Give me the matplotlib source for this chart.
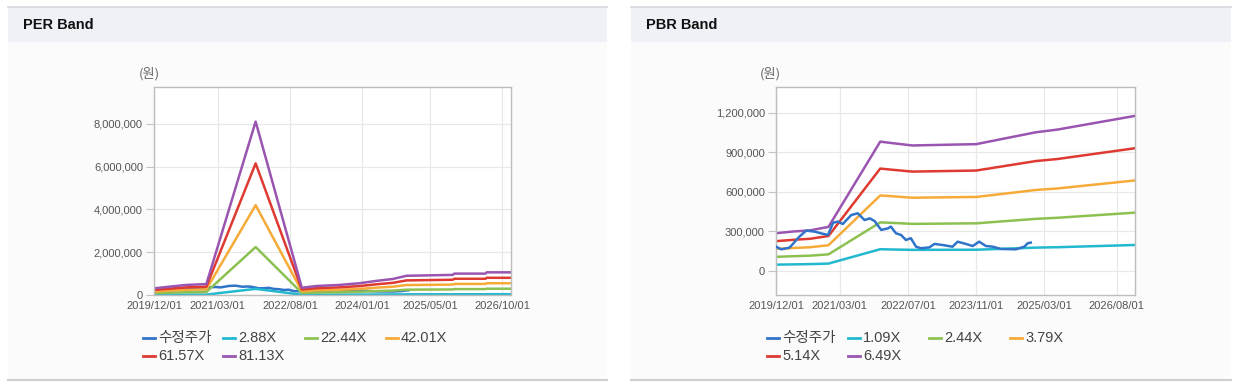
import matplotlib
matplotlib.use("Agg")
import matplotlib.pyplot as plt
import matplotlib.dates as mdates
from matplotlib.lines import Line2D
from matplotlib.patches import Rectangle
from matplotlib.ticker import FuncFormatter, FixedLocator
import numpy as np
import pandas as pd

plt.rcParams['font.family'] = ['Liberation Sans', 'Noto Sans CJK KR', 'DejaVu Sans']

# ---------------- data ----------------
price_dates = ['2019-12-01', '2020-01-08', '2020-03-07', '2020-05-16', '2020-07-04', '2020-09-03',
               '2020-10-19', '2020-12-07', '2021-01-12', '2021-02-15', '2021-03-22', '2021-05-22',
               '2021-07-07', '2021-08-25', '2021-10-01', '2021-11-04', '2021-12-22', '2022-02-08',
               '2022-03-01', '2022-04-07', '2022-05-13', '2022-06-16', '2022-07-22', '2022-08-28',
               '2022-10-03', '2022-12-01', '2023-01-07', '2023-03-04', '2023-05-16', '2023-06-21',
               '2023-08-19', '2023-10-07', '2023-11-22', '2024-01-10', '2024-02-28', '2024-04-25',
               '2024-08-10', '2024-10-10', '2024-11-03', '2024-11-25']
price_values = [184000, 164000, 177000, 260000, 306000, 298000,
                285000, 273000, 366000, 374000, 356000, 424000,
                437000, 386000, 399000, 379000, 311000, 323000,
                336000, 285000, 273000, 235000, 248000, 184000,
                172000, 179000, 205000, 197000, 184000, 222000,
                205000, 189000, 222000, 189000, 184000, 167000,
                164000, 184000, 210000, 215000]

per_dates = ['2019-12-01', '2020-03-20', '2020-07-19', '2020-12-10', '2021-11-28', '2022-10-25',
             '2023-02-05', '2023-07-20', '2023-12-12', '2024-04-10', '2024-08-07', '2024-11-12',
             '2025-10-10', '2025-10-20', '2026-06-01', '2026-06-10', '2026-12-01']
per_labels = ['2.88X', '22.44X', '42.01X', '61.57X', '81.13X']
per_2_88 = [11000, 13800, 16700, 18100, 288000, 12100, 14900, 16700, 19500, 23400, 26600, 31900,
            33400, 35500, 35500, 37600, 37600]
per_22_44 = [85700, 107700, 130200, 141100, 2244000, 94000, 116200, 130200, 152100, 182400, 207300,
             248900, 260100, 276700, 276700, 293300, 293300]
per_42_01 = [160500, 201600, 243700, 264200, 4201000, 176000, 217600, 243700, 284800, 341500, 388200,
             465900, 486900, 518000, 518000, 549100, 549100]
per_61_57 = [235200, 295500, 357100, 387300, 6157000, 258000, 318900, 357100, 417400, 500600, 568900,
             682800, 713600, 759200, 759200, 804700, 804700]
per_81_13 = [309900, 389400, 470600, 510300, 8113000, 339900, 420300, 470600, 550100, 659600, 749600,
             899700, 940300, 1000300, 1000300, 1060400, 1060400]

pbr_dates = ['2019-12-01', '2020-04-01', '2020-08-01', '2020-12-10', '2021-12-15', '2022-03-01',
             '2022-08-01', '2023-11-01', '2024-06-01', '2025-01-01', '2025-06-01', '2026-12-10']
pbr_labels = ['1.09X', '2.44X', '3.79X', '5.14X', '6.49X']
pbr_1_09 = [48000, 50000, 52000, 56000, 165000, 163000, 160000, 161000, 169000, 177000, 180000, 197000]
pbr_2_44 = [107000, 112000, 116000, 126000, 368000, 365000, 357000, 361000, 378000, 395000, 403000, 442000]
pbr_3_79 = [167000, 174000, 180000, 195000, 572000, 567000, 555000, 561000, 587000, 614000, 625000, 686000]
pbr_5_14 = [226000, 236000, 244000, 265000, 776000, 768000, 753000, 761000, 797000, 833000, 848000, 930000]
pbr_6_49 = [286000, 299000, 308000, 334000, 980000, 970000, 951000, 961000, 1006000, 1051000, 1071000, 1175000]

per_xticks = ['2019/12/01', '2021/03/01', '2022/08/01', '2024/01/01', '2025/05/01', '2026/10/01']
pbr_xticks = ['2019/12/01', '2021/03/01', '2022/07/01', '2023/11/01', '2025/03/01', '2026/08/01']
per_yticks = [0, 2000000, 4000000, 6000000, 8000000]
pbr_yticks = [0, 300000, 600000, 900000, 1200000]
price_label = '수정주가'

# ---------------- style ----------------
C_PRICE = '#2f74c8'
BAND_COLORS = ['#22b8cf', '#8cc152', '#f6ab38', '#de3a31', '#9a55b0']
W, H = 1235, 391

fig = plt.figure(figsize=(W / 100, H / 100), dpi=100)
fig.patch.set_facecolor('white')


def fx(px):
    return px / W


def fy(py):
    return 1 - py / H


def panel(x0, x1, title):
    fig.add_artist(Rectangle((fx(x0), fy(380)), fx(x1 - x0), (380 - 6) / H,
                             transform=fig.transFigure, facecolor='#fbfbfb', edgecolor='none', zorder=0))
    fig.add_artist(Rectangle((fx(x0), fy(42)), fx(x1 - x0), (42 - 7) / H,
                             transform=fig.transFigure, facecolor='#eef2f7', edgecolor='none', zorder=0))
    fig.add_artist(Line2D([fx(x0), fx(x1)], [fy(6.5), fy(6.5)], transform=fig.transFigure,
                          color='#d5d8dc', lw=1.2))
    fig.add_artist(Line2D([fx(x0), fx(x1)], [fy(380), fy(380)], transform=fig.transFigure,
                          color='#cfcfcf', lw=1.5))
    fig.text(fx(x0 + 15), fy(25), title, fontsize=10.5, fontweight='bold', color='#111111',
             va='center', ha='left', family=['Liberation Sans', 'DejaVu Sans'])


def fmt(v, pos):
    return f'{int(v):,}'


def setup_axes(left, right, xlim, xticks, ylim, yticks, unit_x):
    ax = fig.add_axes([fx(left), fy(295), fx(right - left), (295 - 87) / H])
    ax.set_facecolor('#ffffff')
    ax.set_xlim(pd.Timestamp(xlim[0]), pd.Timestamp(xlim[1]))
    ax.set_ylim(*ylim)
    tick_dates = [pd.Timestamp(t.replace('/', '-')) for t in xticks]
    ax.xaxis.set_major_locator(FixedLocator(mdates.date2num(tick_dates)))
    ax.set_xticklabels(xticks)
    ax.yaxis.set_major_locator(FixedLocator(yticks))
    ax.yaxis.set_major_formatter(FuncFormatter(fmt))
    ax.tick_params(axis='x', length=0, labelsize=8, labelcolor='#555555', pad=4)
    ax.tick_params(axis='y', length=6, width=0.8, color='#c4c4c4', labelsize=8,
                   labelcolor='#555555', pad=2)
    ax.grid(True, color='#e8e8e8', lw=0.9)
    ax.set_axisbelow(True)
    for s in ax.spines.values():
        s.set_color('#bdbdbd')
        s.set_linewidth(1.0)
    fig.text(fx(unit_x), fy(73.5), '(원)', fontsize=9.5, color='#666666', ha='center', va='center',
             family=['Noto Sans CJK KR', 'DejaVu Sans'])
    return ax


def legend(x_cols, labels, colors):
    rows = [338, 356]
    for i, (lab, col) in enumerate(zip(labels, colors)):
        r = rows[i // 4]
        x = x_cols[i % 4]
        fig.add_artist(Line2D([fx(x), fx(x + 12)], [fy(r), fy(r)], transform=fig.transFigure,
                              color=col, lw=2.0))
        fig.text(fx(x + 15), fy(r), lab, fontsize=10.5, color='#444444', ha='left', va='center',
                 family=['Liberation Sans', 'Noto Sans CJK KR'])


panel(8, 607, 'PER Band')
panel(631, 1231, 'PBR Band')

# PER chart
ax1 = setup_axes(154, 511, ('2019-12-01', '2026-12-01'), per_xticks, (0, 9730000), per_yticks, 149)
pdts = pd.to_datetime(per_dates)
for vals, col in zip([per_2_88, per_22_44, per_42_01, per_61_57, per_81_13], BAND_COLORS):
    ax1.plot(pdts, vals, color=col, lw=1.8, solid_joinstyle='round')
ax1.plot(pd.to_datetime(price_dates), price_values, color=C_PRICE, lw=1.8, zorder=1.5)

# PBR chart
ax2 = setup_axes(776, 1135, ('2019-12-01', '2026-12-10'), pbr_xticks, (-182000, 1394000), pbr_yticks, 770)
bdts = pd.to_datetime(pbr_dates)
for vals, col in zip([pbr_1_09, pbr_2_44, pbr_3_79, pbr_5_14, pbr_6_49], BAND_COLORS):
    ax2.plot(bdts, vals, color=col, lw=1.8, solid_joinstyle='round')
ax2.plot(pd.to_datetime(price_dates), price_values, color=C_PRICE, lw=1.8, zorder=3)

legend([143, 223, 305, 386], [price_label] + per_labels, [C_PRICE] + BAND_COLORS)
legend([767, 848, 929, 1010], [price_label] + pbr_labels, [C_PRICE] + BAND_COLORS)

fig.savefig('out.png', dpi=100, facecolor='white')
